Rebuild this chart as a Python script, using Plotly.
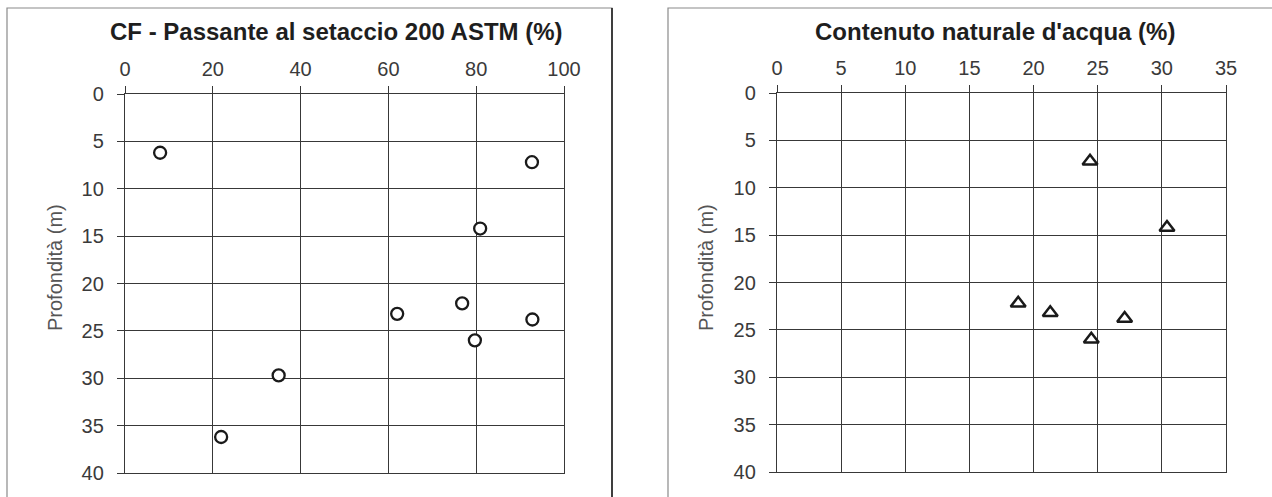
import plotly.graph_objects as go

W, H = 1272, 497

# Sample depths (m) and measured values
cf_depth = [6.2, 7.2, 14.2, 22.1, 23.2, 23.8, 26.0, 29.7, 36.2]
cf_pass = [8.0, 92.7, 80.9, 76.8, 62.0, 92.8, 79.7, 35.0, 21.9]

wc_depth = [7.2, 14.2, 22.2, 23.2, 23.8, 26.0]
wc_value = [24.4, 30.4, 18.8, 21.3, 27.1, 24.5]

cf_ticks = [0, 20, 40, 60, 80, 100]
wc_ticks = [0, 5, 10, 15, 20, 25, 30, 35]
depth_ticks = [0, 5, 10, 15, 20, 25, 30, 35, 40]

titles = ["CF - Passante al setaccio 200 ASTM (%)", "Contenuto naturale d'acqua (%)"]
depth_title = "Profondità (m)"


def px_x(x):
    return x / W


def px_y(y):
    return 1 - y / H


FONT = "Liberation Sans, Arial, sans-serif"
GRID = "#383838"
TXT = "#3a3a3a"

fig = go.Figure()

fig.add_trace(go.Scatter(
    x=cf_pass, y=cf_depth, mode="markers", xaxis="x", yaxis="y",
    marker=dict(symbol="circle", size=12, color="white",
                line=dict(color="#1a1a1a", width=2.3)),
    showlegend=False))

fig.add_trace(go.Scatter(
    x=wc_value, y=wc_depth, mode="markers", xaxis="x2", yaxis="y2",
    marker=dict(symbol="triangle-up", size=13, color="white",
                line=dict(color="#1a1a1a", width=2.5)),
    showlegend=False))

axis_common = dict(
    side="top", showgrid=True, gridcolor=GRID, gridwidth=1.3,
    showline=True, linecolor=GRID, linewidth=1.3, mirror=True,
    ticks="outside", ticklen=7, tickwidth=1.2, tickcolor=GRID,
    ticklabelstandoff=2, automargin=False,
    tickfont=dict(family=FONT, size=20, color=TXT),
    zeroline=False, fixedrange=True,
)
yaxis_common = dict(
    autorange=False, range=[40, 0], tickvals=depth_ticks,
    showgrid=True, gridcolor=GRID, gridwidth=1.3,
    showline=True, linecolor=GRID, linewidth=1.3, mirror=True,
    ticks="outside", ticklen=7, tickwidth=1.2, tickcolor=GRID,
    ticklabelstandoff=9, automargin=False,
    tickfont=dict(family=FONT, size=20, color=TXT),
    zeroline=False, fixedrange=True,
)

fig.update_layout(
    width=W, height=H,
    margin=dict(l=0, r=0, t=0, b=0, pad=0),
    paper_bgcolor="white", plot_bgcolor="white",
    xaxis=dict(axis_common, domain=[px_x(125), px_x(564)], range=[0, 100],
               tickvals=cf_ticks, anchor="y"),
    yaxis=dict(yaxis_common, domain=[px_y(473), px_y(94)], anchor="x"),
    xaxis2=dict(axis_common, domain=[px_x(777), px_x(1226)], range=[0, 35],
                tickvals=wc_ticks, anchor="y2"),
    yaxis2=dict(yaxis_common, domain=[px_y(472), px_y(93)], anchor="x2"),
)

# Panel frames
fig.add_shape(type="rect", xref="paper", yref="paper",
              x0=px_x(7), x1=px_x(612), y0=-0.1, y1=px_y(8),
              line=dict(color="#8a8a8a", width=1.2), layer="below")
fig.add_shape(type="line", xref="paper", yref="paper",
              x0=px_x(612), x1=px_x(612), y0=-0.1, y1=px_y(8),
              line=dict(color="#202020", width=1.6))
fig.add_shape(type="rect", xref="paper", yref="paper",
              x0=px_x(668), x1=1.1, y0=-0.1, y1=px_y(8),
              line=dict(color="#8a8a8a", width=1.2), layer="below")

# Panel titles
fig.add_annotation(text=f"<b>{titles[0]}</b>", xref="paper", yref="paper",
                   x=px_x(336), y=px_y(32), xanchor="center", yanchor="middle",
                   showarrow=False, font=dict(family=FONT, size=24, color="#1e1e1e"))
fig.add_annotation(text=f"<b>{titles[1]}</b>", xref="paper", yref="paper",
                   x=px_x(995), y=px_y(32), xanchor="center", yanchor="middle",
                   showarrow=False, font=dict(family=FONT, size=24, color="#1e1e1e"))

# Depth axis titles
for xc in (55, 706):
    fig.add_annotation(text=depth_title, xref="paper", yref="paper",
                       x=px_x(xc), y=px_y(268), xanchor="center", yanchor="middle",
                       textangle=-90, showarrow=False,
                       font=dict(family=FONT, size=20, color="#555555"))

fig.write_html(
    "out.html",
    post_script="document.body.style.margin='0';document.body.style.overflow='hidden';",
)
